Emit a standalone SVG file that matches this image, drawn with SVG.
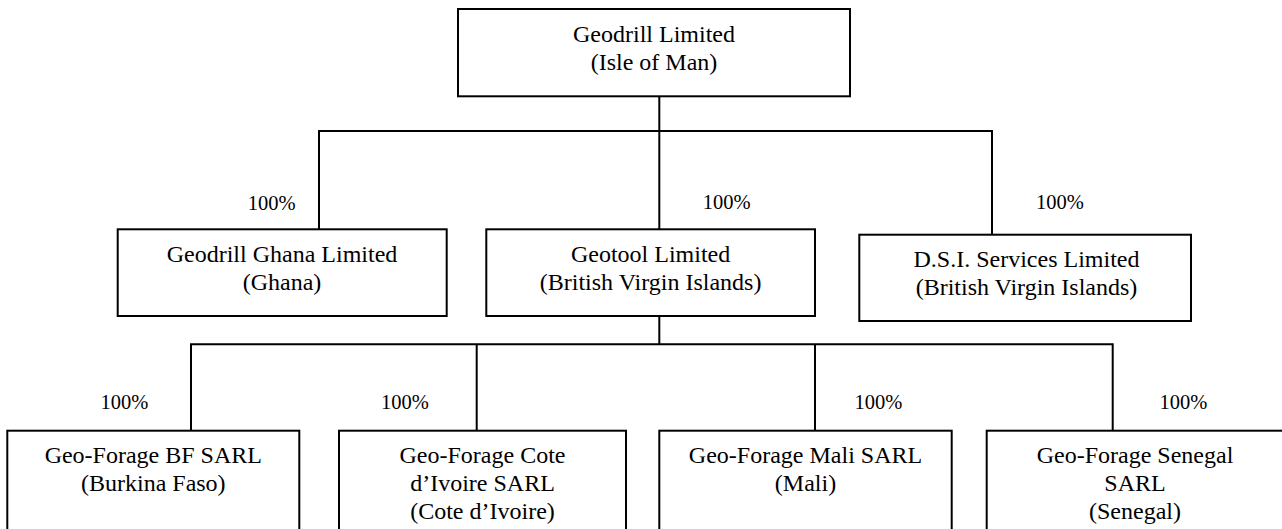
<svg xmlns="http://www.w3.org/2000/svg" width="1282" height="529" viewBox="0 0 1282 529">
<style>
.box{fill:#fff;stroke:#000;stroke-width:2}
.ln{fill:none;stroke:#000;stroke-width:2}
.t{font-family:"Liberation Serif","Times New Roman",serif;font-size:24px;fill:#000;text-anchor:middle}
.p{font-family:"Liberation Serif","Times New Roman",serif;font-size:20.5px;fill:#000;text-anchor:middle}
</style>
<rect width="1282" height="529" fill="#fff"/>
<g id="connectors">
<path class="ln" d="M659.3 96 V229.3"/>
<path class="ln" d="M319 229.3 V131 H992 V234.7"/>
<path class="ln" d="M659.3 316 V344.3"/>
<path class="ln" d="M191 430.7 V344.3 H1112.7 V430.7"/>
<path class="ln" d="M476.7 344.3 V430.7"/>
<path class="ln" d="M815 344.3 V430.7"/>
<text class="p" x="271.7" y="210">100%</text>
<text class="p" x="726.7" y="209.3">100%</text>
<text class="p" x="1060" y="209.3">100%</text>
<text class="p" x="124.5" y="409">100%</text>
<text class="p" x="405" y="409">100%</text>
<text class="p" x="878.5" y="409">100%</text>
<text class="p" x="1183.3" y="409">100%</text>
</g>
<g id="geodrill">
<rect class="box" x="458" y="9" width="392" height="87.3"/>
<text class="t" x="654" y="42">Geodrill Limited</text>
<text class="t" x="654" y="70">(Isle of Man)</text>
</g>
<g id="ghana">
<rect class="box" x="117.7" y="229.3" width="329" height="86.7"/>
<text class="t" x="282" y="262">Geodrill Ghana Limited</text>
<text class="t" x="282" y="290">(Ghana)</text>
</g>
<g id="geotool">
<rect class="box" x="486.3" y="229.3" width="328.7" height="86.7"/>
<text class="t" x="650.6" y="262">Geotool Limited</text>
<text class="t" x="650.6" y="290">(British Virgin Islands)</text>
</g>
<g id="dsi">
<rect class="box" x="859.3" y="234.7" width="331.7" height="86.3"/>
<text class="t" x="1026.5" y="266.7">D.S.I. Services Limited</text>
<text class="t" x="1026.5" y="295">(British Virgin Islands)</text>
</g>
<g id="bf">
<rect class="box" x="7.3" y="430.7" width="292" height="130"/>
<text class="t" x="153.3" y="462.7">Geo-Forage BF SARL</text>
<text class="t" x="153.3" y="490.7">(Burkina Faso)</text>
</g>
<g id="cote">
<rect class="box" x="339" y="430.7" width="287" height="130"/>
<text class="t" x="482.5" y="462.7">Geo-Forage Cote</text>
<text class="t" x="482.5" y="491">d’Ivoire SARL</text>
<text class="t" x="482.5" y="519">(Cote d’Ivoire)</text>
</g>
<g id="mali">
<rect class="box" x="659.3" y="430.7" width="292.4" height="130"/>
<text class="t" x="805.5" y="462.7">Geo-Forage Mali SARL</text>
<text class="t" x="805.5" y="491">(Mali)</text>
</g>
<g id="senegal">
<rect class="box" x="986.7" y="430.7" width="300" height="130"/>
<text class="t" x="1135" y="462.7">Geo-Forage Senegal</text>
<text class="t" x="1135" y="491">SARL</text>
<text class="t" x="1135" y="519">(Senegal)</text>
</g>
</svg>
